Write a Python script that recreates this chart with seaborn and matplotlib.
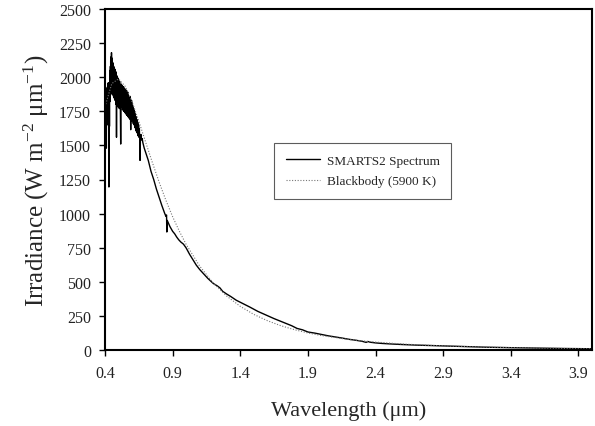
import matplotlib
matplotlib.use("Agg")
import matplotlib.pyplot as plt
import seaborn as sns
import pandas as pd

# ---- data ----
smarts_wl = [0.400, 0.401, 0.402, 0.403, 0.404, 0.405, 0.406, 0.407, 0.408, 0.409,
             0.410, 0.411, 0.412, 0.413, 0.414, 0.415, 0.416, 0.417, 0.418, 0.419,
             0.420, 0.421, 0.422, 0.423, 0.424, 0.425, 0.426, 0.427, 0.428, 0.429,
             0.430, 0.431, 0.432, 0.433, 0.434, 0.435, 0.436, 0.437, 0.438, 0.439,
             0.440, 0.441, 0.442, 0.443, 0.444, 0.445, 0.446, 0.447, 0.448, 0.449,
             0.450, 0.451, 0.452, 0.453, 0.454, 0.455, 0.456, 0.457, 0.458, 0.459,
             0.460, 0.461, 0.462, 0.463, 0.464, 0.465, 0.466, 0.467, 0.468, 0.469,
             0.470, 0.471, 0.472, 0.473, 0.474, 0.475, 0.476, 0.477, 0.478, 0.479,
             0.480, 0.481, 0.482, 0.483, 0.484, 0.485, 0.486, 0.487, 0.488, 0.489,
             0.490, 0.491, 0.492, 0.493, 0.494, 0.495, 0.496, 0.497, 0.498, 0.499,
             0.500, 0.502, 0.504, 0.506, 0.508, 0.510, 0.512, 0.514, 0.516, 0.518,
             0.520, 0.522, 0.524, 0.526, 0.528, 0.530, 0.532, 0.534, 0.536, 0.538,
             0.540, 0.542, 0.544, 0.546, 0.548, 0.550, 0.552, 0.554, 0.556, 0.558,
             0.560, 0.562, 0.564, 0.566, 0.568, 0.570, 0.572, 0.574, 0.576, 0.578,
             0.580, 0.582, 0.584, 0.586, 0.588, 0.590, 0.592, 0.594, 0.596, 0.598,
             0.600, 0.603, 0.606, 0.609, 0.612, 0.615, 0.618, 0.621, 0.624, 0.627,
             0.630, 0.633, 0.636, 0.639, 0.642, 0.645, 0.648, 0.651, 0.654, 0.657,
             0.659, 0.662, 0.666, 0.670, 0.675, 0.680, 0.690, 0.700, 0.710, 0.720,
             0.740, 0.760, 0.780, 0.800, 0.820, 0.840, 0.850, 0.855, 0.857, 0.860,
             0.880, 0.900, 0.915, 0.930, 0.945, 0.960, 0.980, 1.000, 1.025, 1.050,
             1.075, 1.100, 1.130, 1.160, 1.200, 1.230, 1.250, 1.270, 1.300, 1.330,
             1.370, 1.420, 1.470, 1.530, 1.600, 1.650, 1.720, 1.780, 1.820, 1.860,
             1.900, 1.950, 2.000, 2.050, 2.100, 2.150, 2.200, 2.250, 2.300, 2.330,
             2.345, 2.360, 2.400, 2.450, 2.500, 2.600, 2.700, 2.800, 3.000, 3.200,
             3.400, 3.600, 3.800, 4.000]
smarts_irr = [1700, 1880, 1520, 1900, 1600, 1850, 1700, 1920, 1580, 1800,
              1480, 1850, 1680, 1900, 1750, 1920, 1650, 1880, 1720, 1930,
              1780, 1950, 1700, 1900, 1800, 1960, 1680, 1880, 1760, 1195,
              1820, 1700, 1900, 1640, 1960, 1820, 2000, 1860, 2050, 1900,
              2080, 1870, 2120, 1920, 2060, 1880, 2150, 1950, 2180, 1960,
              2100, 1900, 2140, 1950, 2080, 1880, 2110, 1940, 2060, 1870,
              2100, 1920, 2050, 1860, 2080, 1900, 2040, 1850, 2070, 1910,
              2030, 1840, 2060, 1880, 2020, 1830, 2050, 1900, 2010, 1820,
              2040, 1870, 2000, 1800, 1990, 1560, 1950, 1830, 2010, 1860,
              1980, 1800, 2000, 1850, 1970, 1790, 1990, 1840, 1960, 1780,
              1980, 1830, 1950, 1770, 1970, 1820, 1940, 1760, 1510, 1800,
              1950, 1780, 1930, 1800, 1940, 1760, 1920, 1790, 1930, 1750,
              1910, 1780, 1920, 1740, 1900, 1770, 1910, 1730, 1890, 1760,
              1900, 1720, 1880, 1750, 1890, 1710, 1870, 1740, 1860, 1700,
              1850, 1730, 1860, 1690, 1840, 1615, 1820, 1700, 1830, 1680,
              1810, 1690, 1790, 1660, 1770, 1650, 1750, 1630, 1730, 1610,
              1710, 1600, 1690, 1590, 1670, 1570, 1650, 1560, 1620, 1530,
              1390, 1560, 1580, 1540, 1550, 1520, 1480, 1450, 1420, 1390,
              1310, 1250, 1180, 1120, 1060, 1005, 980, 990, 865, 950,
              905, 870, 852, 828, 808, 792, 776, 748, 702, 662,
              622, 590, 557, 525, 488, 470, 455, 430, 410, 392,
              365, 340, 315, 283, 252, 230, 202, 178, 158, 148,
              132, 124, 114, 104, 96, 88, 79, 72, 64, 56,
              62, 57, 52, 48, 45, 40, 36, 33, 27, 21,
              17, 14, 11, 9]

bb_wl = [0.40, 0.45, 0.50, 0.55, 0.60, 0.65, 0.70, 0.75, 0.80, 0.85,
         0.90, 0.95, 1.00, 1.10, 1.20, 1.30, 1.40, 1.50, 1.60, 1.70,
         1.80, 1.90, 2.00, 2.20, 2.40, 2.60, 2.80, 3.00, 3.20, 3.40,
         3.60, 3.80, 4.00]
bb_irr = [1783, 1953, 1988, 1932, 1820, 1677, 1525, 1375, 1231, 1098,
          977, 870, 774, 615, 491, 395, 320, 261, 215, 178,
          149, 125, 106, 77, 58, 44, 34, 27, 21, 17,
          14, 11, 9]

x_ticks = [0.4, 0.9, 1.4, 1.9, 2.4, 2.9, 3.4, 3.9]
y_ticks = [0, 250, 500, 750, 1000, 1250, 1500, 1750, 2000, 2250, 2500]

series_smarts = "SMARTS2 Spectrum"
series_bb = "Blackbody (5900 K)"

# ---- style ----
sns.set_style("ticks")
plt.rcParams["font.family"] = ["Liberation Serif", "DejaVu Serif"]
plt.rcParams["mathtext.fontset"] = "custom"
plt.rcParams["mathtext.rm"] = "Liberation Serif"
plt.rcParams["mathtext.it"] = "Liberation Serif:italic"

df_s = pd.DataFrame({"wl": smarts_wl, "irr": smarts_irr})
df_b = pd.DataFrame({"wl": bb_wl, "irr": bb_irr})

fig = plt.figure(figsize=(5.95, 4.27), dpi=100)
ax = fig.add_axes([105 / 595, 1 - 351 / 427, (592 - 105) / 595, (351 - 10) / 427])

sns.lineplot(data=df_s, x="wl", y="irr", ax=ax, color="black", linewidth=1.0,
             label=series_smarts, sort=False, estimator=None)
sns.lineplot(data=df_b, x="wl", y="irr", ax=ax, color="#777777", linewidth=0.8,
             linestyle=(0, (1, 1.5)), label=series_bb, sort=False, estimator=None)

ax.set_xlim(0.4, 4.0)
ax.set_ylim(0, 2500)
ax.set_xticks(x_ticks)
ax.set_xticklabels([f"{t:.1f}" for t in x_ticks])
ax.set_yticks(y_ticks)
ax.set_yticklabels([str(t) for t in y_ticks])
ax.tick_params(axis="both", direction="out", length=4, width=1, labelsize=11.5,
               colors="black", labelcolor="#222222")
ax.tick_params(axis="x", pad=7)
ax.tick_params(axis="y", pad=6)
for s in ax.spines.values():
    s.set_visible(True)
    s.set_linewidth(1.5)
    s.set_color("black")

ax.set_xlabel("Wavelength (\u03bcm)", fontsize=16, labelpad=14)
ax.set_ylabel("Irradiance (W m$^{\\mathregular{-2}}$ \u03bcm$^{\\mathregular{-1}}$)",
              fontsize=18, labelpad=6)

leg = ax.legend(loc="center", bbox_to_anchor=(0.529, 0.525), fontsize=9.5,
                frameon=True, fancybox=False, edgecolor="#333333",
                handlelength=2.6, borderpad=0.9, labelspacing=0.6,
                handletextpad=0.5)
leg.get_frame().set_linewidth(0.8)

fig.savefig("out.png", dpi=100)
